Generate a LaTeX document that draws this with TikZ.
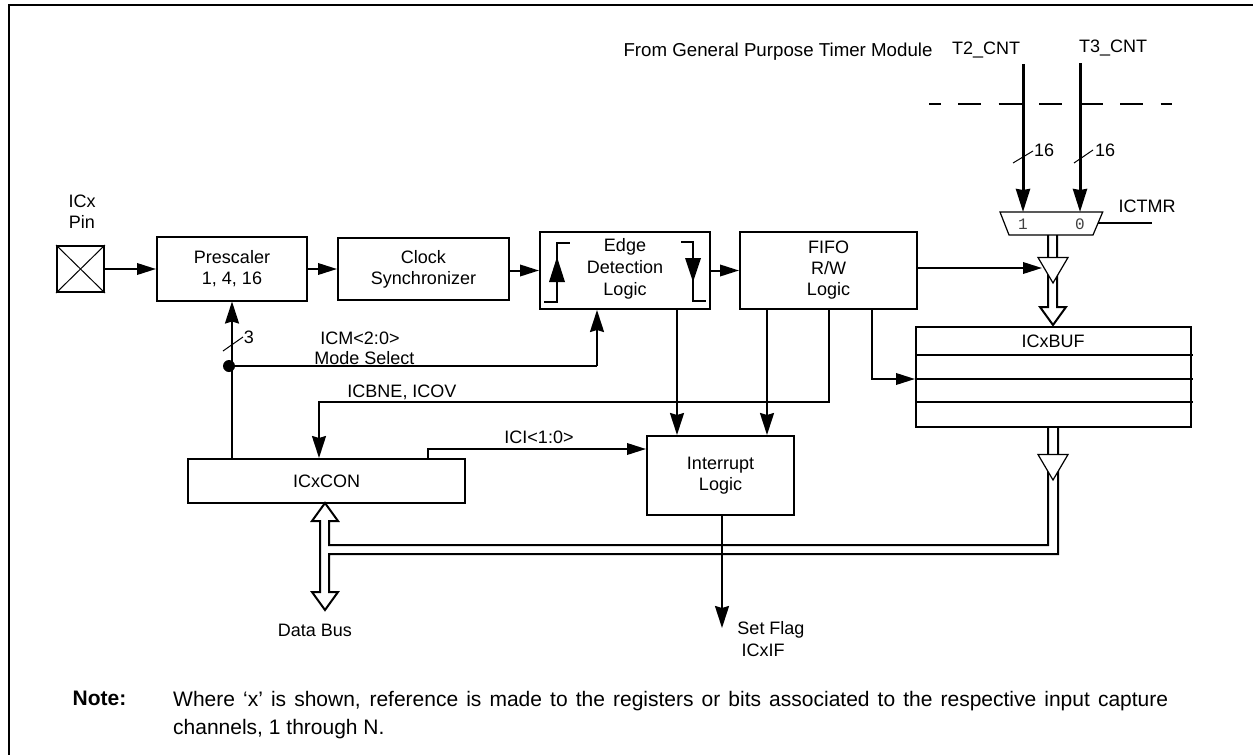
\documentclass[tikz,border=0pt]{standalone}
\usepackage{fontspec}
\setmainfont{Liberation Sans}
\newfontfamily\muxfont{Liberation Mono}
\usetikzlibrary{arrows.meta}
\tikzset{
  every node/.style={font=\fontsize{18}{21}\selectfont,inner sep=0pt},
  block/.style={draw,line width=2pt,align=center,fill=white},
  lbl/.style={align=center},
  sigh/.style={line width=2pt,-{Triangle[length=19pt,width=11.5pt]}},
  sigv/.style={line width=2pt,-{Stealth[length=22pt,width=14pt,inset=2pt]}},
  plain/.style={line width=2pt},
  count/.style={line width=3pt,-{Stealth[length=23pt,width=14pt,inset=1pt]}},
  busline/.style={line width=2pt},
  tick/.style={line width=1pt},
  tribuf/.style={draw,line width=1.2pt,fill=white}
}
\begin{document}
\begin{tikzpicture}[x=1pt,y=-1pt]
\useasboundingbox (0,0) rectangle (1253,755);
\draw[line width=2.4pt] (9,755) -- (9,5) -- (1253,5);

\node[block,minimum width=47pt,minimum height=46pt] (pin) at (80.5,269) {};
\draw[tick] (pin.north west) -- (pin.south east);
\draw[tick] (pin.north east) -- (pin.south west);
\node[block,minimum width=150pt,minimum height=64pt] (prescaler) at (232,268.5) {Prescaler\\1, 4, 16};
\node[block,minimum width=171pt,minimum height=62pt] (clocksync) at (423.5,269) {Clock\\Synchronizer};
\node[block,minimum width=170pt,minimum height=77pt] (edgelogic) at (625,270.5) {};
\node[lbl,font=\fontsize{18}{22}\selectfont] (edgelabel) at (625,268.7) {Edge\\Detection\\Logic};
\node[block,minimum width=177pt,minimum height=77pt] (fifologic) at (828.5,270.5) {FIFO\\R/W\\Logic};
\node[block,minimum width=147pt,minimum height=79pt] (intlogic) at (720.5,475.5) {Interrupt\\Logic};
\node[block,minimum width=277pt,minimum height=44pt] (icxcon) at (326.5,481) {ICxCON};
\node[block,minimum width=275pt,minimum height=100pt] (icxbuf) at (1053.5,377) {};
\draw[plain] (916,355) -- (1193,355);
\draw[plain] (916,379) -- (1193,379);
\draw[plain] (916,402) -- (1193,402);
\node (buflabel) at (1053,341) {ICxBUF};
\node[font=\muxfont\fontsize{16}{16}\selectfont,text=black!75] (muxone) at (1023,224) {1};
\node[font=\muxfont\fontsize{16}{16}\selectfont,text=black!75] (muxzero) at (1080,224) {0};

\node[lbl] (pinlabel) at (82,211.5) {ICx\\Pin};
\node[font=\fontsize{18.7}{21}\selectfont] (fromlabel) at (778,52) {From General Purpose Timer Module};
\node (t2label) at (986,50) {T2\_CNT};
\node (t3label) at (1113,48) {T3\_CNT};
\node (ictmrlabel) at (1147,206) {ICTMR};
\node (t2width) at (1044,150) {16};
\node (t3width) at (1105,150) {16};
\node (modewidth) at (249,337) {3};
\node (modelabel) at (360,338) {ICM<2:0>};
\node (selectlabel) at (364.5,358) {Mode Select};
\node (flaglabel) at (402,392) {ICBNE, ICOV};
\node (icilabel) at (539,437) {ICI<1:0>};
\node (buslabel) at (315,630) {Data Bus};
\node (setlabel) at (771,630) {Set Flag};
\node (iflabel) at (763,650) {ICxIF};
\node[font=\fontsize{21}{28}\selectfont\bfseries] (notelabel) at (99.5,698) {Note:};
\node[anchor=north west,text width=995pt,align=justify,font=\fontsize{21}{28}\selectfont] (notetext) at (173,691) {Where ‘x’ is shown, reference is made to the registers or bits associated to the respective input capture channels, 1 through N.};

\draw[line width=1.5pt,dash pattern=on 23pt off 17.5pt,dash phase=11.5pt] (929,104) -- (1172,104);
\coordinate (muxtop) at (1051.5,212);
\coordinate (t2top) at (1023,64);
\coordinate (t3top) at (1080,63);
\draw[count] (t2top) -- (t2top |- muxtop);
\draw[count] (t3top) -- (t3top |- muxtop);
\draw[tick] (1013,163) -- (1033,151);
\draw[tick] (1074,163) -- (1093,150);
\coordinate (ictmrend) at (1152,223);
\draw[plain] (1098,223) -- (ictmrend);
\draw[tribuf,fill=none] (1000,212) -- (1102.7,212) -- (1093,235) -- (1009,235) -- cycle;

\draw[sigh] (pin.east) -- (prescaler.west |- pin.east);
\draw[sigh] (prescaler.east |- clocksync.east) -- (clocksync.west);
\draw[sigh] (clocksync.east |- edgelogic.west) -- (edgelogic.west);
\draw[sigh] (edgelogic.east) -- (fifologic.west);

\coordinate (modedot) at (229,366);
\coordinate (modeturn) at (597,366);
\draw[sigv] (icxcon.north -| prescaler.south) -- (prescaler.south);
\draw[plain] (modedot) -- (modeturn);
\draw[sigv] (modeturn) -- (modeturn |- edgelogic.south);
\fill (modedot) circle (6pt);
\draw[tick] (223,351) -- (243,337);

\coordinate (edgeout) at (677,309);
\coordinate (fifoout) at (767,309);
\coordinate (statusout) at (829,309);
\coordinate (bufout) at (872,309);
\coordinate (statusin) at (319,402);
\draw[sigv] (edgeout) -- (edgeout |- intlogic.north);
\draw[sigv] (fifoout) -- (fifoout |- intlogic.north);
\draw[sigv] (statusout) |- (statusin) -- (statusin |- icxcon.north);
\draw[sigh] (bufout) |- (icxbuf.west |- 0,379);

\coordinate (icistart) at (428,459);
\draw[sigh] (icistart) |- (intlogic.west |- 0,449);
\coordinate (flagend) at (722,628);
\draw[sigv] (flagend |- intlogic.south) -- (flagend);

\draw[plain] (544,302) -- (557,302) -- (557,243) -- (570,243);
\draw[plain] (681,242) -- (693,242) -- (693,301) -- (706,301);
\fill (557,257) -- (565,282) -- (549,282) -- cycle;
\fill (693,282) -- (685,258) -- (701,258) -- cycle;

\draw[busline] (1048,235) -- (1048,307) -- (1040,307) -- (1053,325) -- (1066,307) -- (1057,307) -- (1057,235);
\draw[tribuf] (1038,257.5) -- (1068,257.5) -- (1053,283) -- cycle;
\draw[sigh] (fifologic.east |- 0,268) -- (1042,268);

\draw[busline] (1048,427) -- (1048,545) -- (329,545) -- (329,521) -- (338,521) -- (325,503) -- (312,521) -- (320,521) -- (320,592) -- (312,592) -- (325,610) -- (338,592) -- (329,592) -- (329,554) -- (1058,554) -- (1058,427);
\draw[tribuf] (1038,454.5) -- (1068,454.5) -- (1053,480) -- cycle;
\end{tikzpicture}
\end{document}
